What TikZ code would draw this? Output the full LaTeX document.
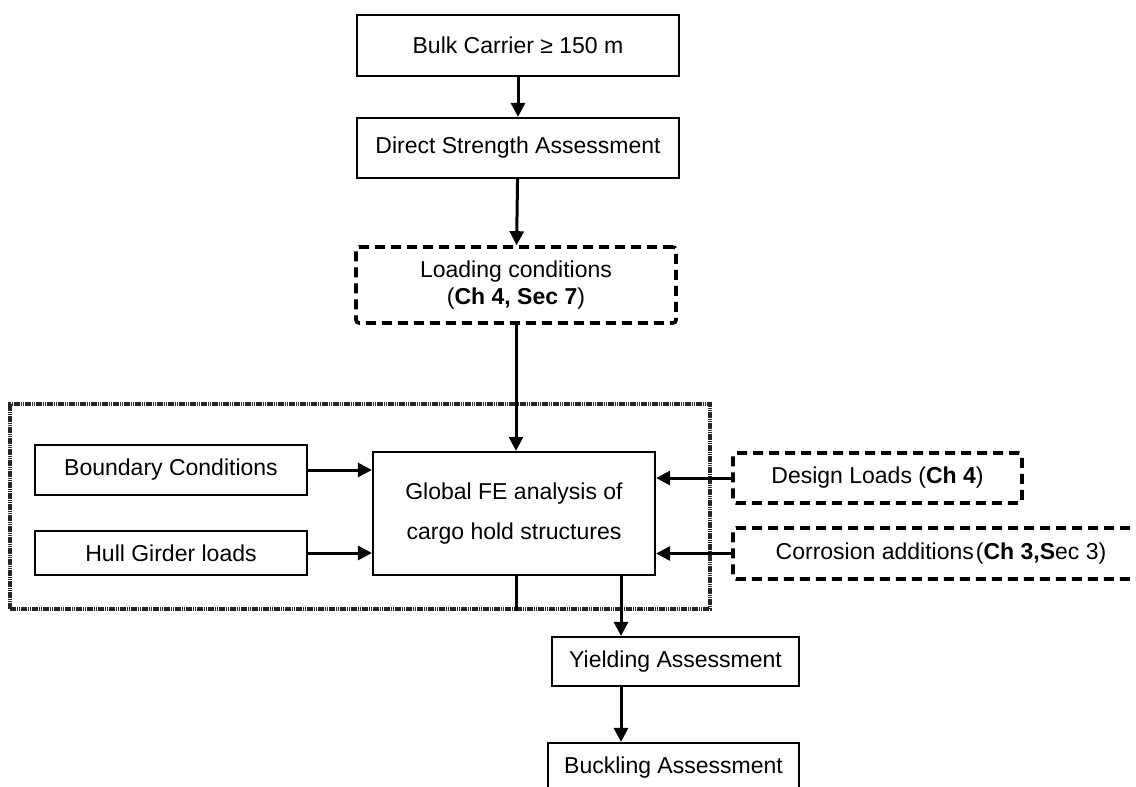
\documentclass[tikz,border=0pt]{standalone}
\usepackage{fontspec}
\setmainfont{Liberation Sans}
\usetikzlibrary{arrows.meta}

\begin{document}
\begin{tikzpicture}[x=1pt, y=-1pt,
  box/.style={draw, line width=2.2pt, inner sep=0pt, align=center, font=\fontsize{23}{27}\selectfont},
  dashbox/.style={box, line width=3.6pt, dash pattern=on 10pt off 6pt, rounded corners=3pt},
  frame/.style={draw=black!85, line width=3.4pt, dash pattern=on 1.6pt off 0.6pt},
  arr/.style={line width=3pt, -{Triangle[length=14pt,width=14pt]}}]
\useasboundingbox (0,0) rectangle (1136,787);
\clip (0,0) rectangle (1136,787);
% main column
\node[box, minimum width=322pt, minimum height=61pt] (Bulk) at (518,45.5) {Bulk Carrier ≥ 150 m};
\node[box, minimum width=322pt, minimum height=60pt] (Direct) at (518,148) {Direct Strength Assessment};
\node[dashbox, minimum width=320pt, minimum height=76pt] (Load) at (516,285) {Loading conditions\\(\textbf{Ch 4, Sec 7})};
% cargo hold block
\node[frame, minimum width=700pt, minimum height=205pt] (Frame) at (360,506.5) {};
\node[box, minimum width=272pt, minimum height=50pt] (Bound) at (171,470) {Boundary Conditions};
\node[box, minimum width=272pt, minimum height=44pt] (Hull) at (171,553) {Hull Girder loads};
\node[box, minimum width=282pt, minimum height=123pt] (Global) at (514,513.5) {Global FE analysis of\\[13pt]cargo hold structures};
% inputs on the right
\node[dashbox, minimum width=289pt, minimum height=50pt] (Design) at (877.5,478) {Design Loads (\textbf{Ch 4})};
\node[dashbox, minimum width=416pt, minimum height=51pt] (Corr) at (941,553.5) {Corrosion additions\hspace{2pt}(\textbf{Ch 3,S}ec 3)};
% results
\node[box, minimum width=247pt, minimum height=49pt] (Yield) at (675.5,661.5) {Yielding Assessment};
\node[box, minimum width=251pt, minimum height=49pt] (Buck) at (673.5,767.5) {Buckling Assessment};
\coordinate (tap) at (621,0);
% connectors
\draw[arr] (Bulk) -- (Direct);
\draw[arr] (Direct) -- (Load);
\draw[arr] (Load) -- (Load.south |- Global.north);
\draw[line width=3pt] (Load.south |- Global.south) -- (Load.south |- Frame.south);
\draw[arr] (Bound) -- (Bound -| Global.west);
\draw[arr] (Hull) -- (Hull -| Global.west);
\draw[arr] (Design.west) -- (Design.west -| Global.east);
\draw[arr] (Corr.west) -- (Corr.west -| Global.east);
\draw[arr] (Global.south -| tap) -- (Yield.north -| tap);
\draw[arr] (Yield.south -| tap) -- (Buck.north -| tap);
\end{tikzpicture}
\end{document}
